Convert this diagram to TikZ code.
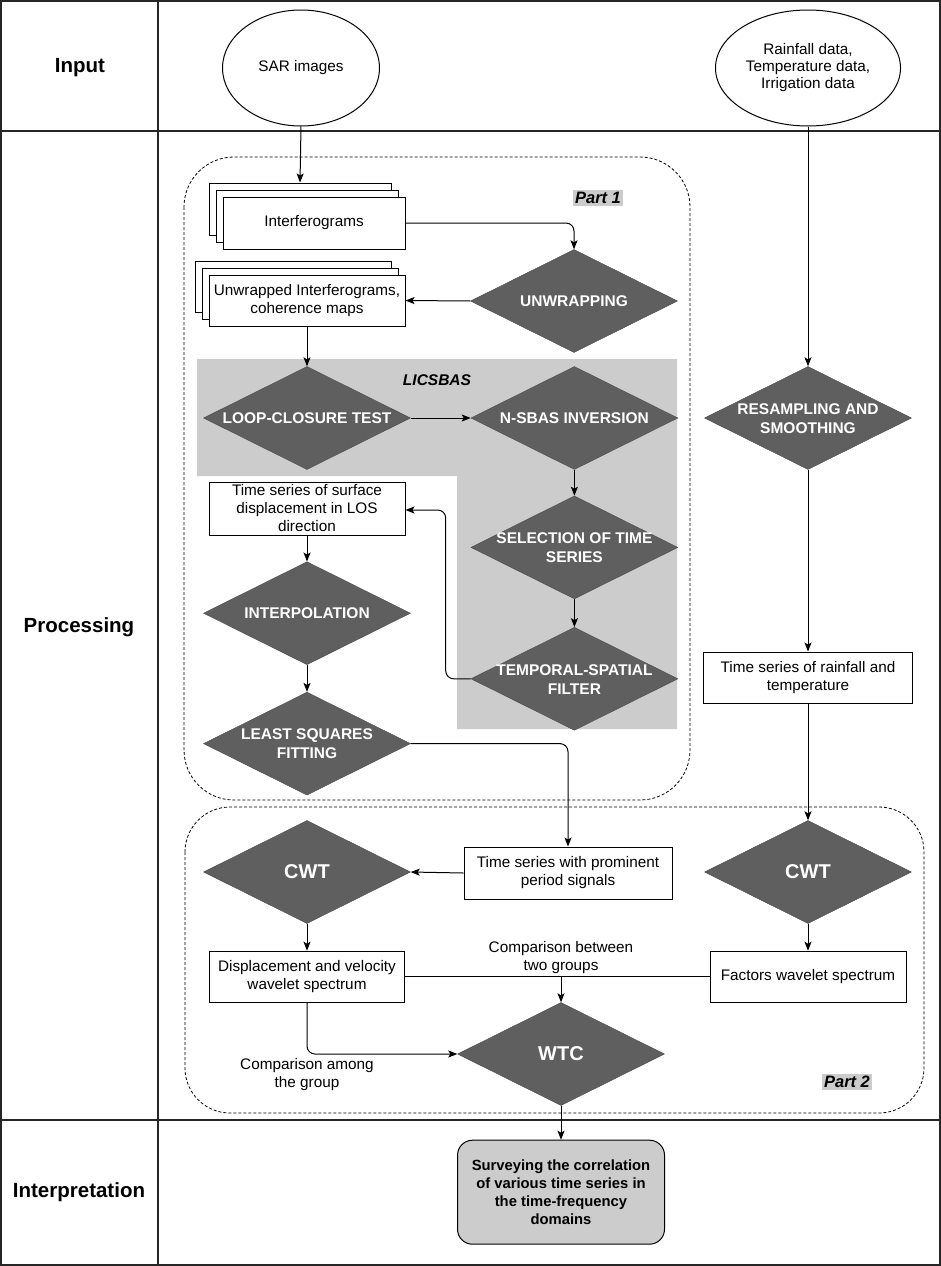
\documentclass[tikz,border=0pt]{standalone}
\usepackage{fontspec}
\setmainfont{Liberation Sans}
\usepackage{tikz}
\usetikzlibrary{shapes.geometric, arrows.meta, calc, positioning, shadows}
\definecolor{darkfill}{RGB}{95,95,95}
\definecolor{lightfill}{RGB}{204,204,204}
\newcommand{\DiaText}[1]{\makebox[0pt]{\smash{\raisebox{-0.36em}{\begin{tabular}{@{}c@{}}#1\end{tabular}}}}}
\tikzstyle{frame} = [line width=1.5pt, draw=black!85]
\tikzstyle{startstop} = [ellipse, draw=black, line width=1pt, minimum width=157pt, minimum height=116pt, align=center, font=\fontsize{15.3}{17}\selectfont]
\tikzstyle{process} = [rectangle, draw=black, line width=1pt, fill=white, minimum height=52pt, align=center, inner sep=2pt, font=\fontsize{15.3}{18}\selectfont]
\tikzstyle{stack} = [process, copy shadow={shadow xshift=-14pt, shadow yshift=14pt}, copy shadow={shadow xshift=-7pt, shadow yshift=7pt}]
\tikzstyle{decision} = [diamond, draw=black!70, fill=darkfill, minimum width=207pt, minimum height=103pt, inner sep=0pt, text=white, font=\bfseries\fontsize{15.5}{19}\selectfont]
\tikzstyle{bigdecision} = [decision, font=\bfseries\fontsize{20}{24}\selectfont]
\tikzstyle{result} = [rectangle, rounded corners=15pt, draw=black, line width=1pt, fill=lightfill, minimum width=207pt, minimum height=104pt, align=center, font=\bfseries\fontsize{14.8}{18}\selectfont]
\tikzstyle{rowlabel} = [font=\bfseries\fontsize{20.5}{24}\selectfont]
\tikzstyle{partlabel} = [fill=lightfill, inner sep=2pt, font=\bfseries\itshape\fontsize{16.5}{19}\selectfont]
\tikzstyle{note} = [align=center, font=\fontsize{15.3}{18}\selectfont]
\tikzstyle{group} = [dash pattern=on 3pt off 2pt, line width=0.8pt, rounded corners=50pt]
\tikzstyle{arrow} = [line width=1pt, -{Stealth[length=9pt, width=7pt, inset=2pt]}]
\tikzstyle{line} = [line width=1pt]
\begin{document}
\begin{tikzpicture}[x=1pt, y=-1pt, node distance=26pt]
\useasboundingbox (0,0) rectangle (941,1266);
% table
\draw[frame] (1,1) rectangle (940,1265);
\draw[frame] (158,1) -- (158,1265);
\draw[frame] (1,131) -- (940,131);
\draw[frame] (1,1120) -- (940,1120);
% parts and LiCSBAS area
\draw[group] (184,157) rectangle (690,800);
\draw[group, rounded corners=45pt] (185,807) rectangle (924,1113);
\fill[lightfill] (197,359) -- (677,359) -- (677,729) -- (457,729) -- (457,476) -- (197,476) -- cycle;
\node (PartOne) [partlabel] at (598,198) {Part 1};
\node (PartTwo) [partlabel] at (847,1082) {Part 2};
\node (Licsbas) [font=\bfseries\itshape\fontsize{15.5}{18}\selectfont] at (437,380) {LICSBAS};
% row labels
\node (Input) [rowlabel] at (80,68) {Input};
\node (Processing) [rowlabel] at (79,627) {Processing};
\node (Interpretation) [rowlabel] at (79,1192) {Interpretation};
% input
\node (SAR) [startstop] at (301,68) {SAR images};
\node (Rainfall) [startstop] at (808,68) {Rainfall data,\\Temperature data,\\Irrigation data};
% part 1
\node (Interferograms) [stack, minimum width=182pt] at (314,223) {Interferograms};
\node (Unwrapping) [decision] at (574,301) {\DiaText{UNWRAPPING}};
\node (Unwrapped) [stack, minimum width=196pt, minimum height=51pt] at (307,300.5) {Unwrapped Interferograms,\\coherence maps};
\node (LoopClosure) [decision] at (307,418) {\DiaText{LOOP-CLOSURE TEST}};
\node (NSBAS) [decision, right = 60pt of LoopClosure] {\DiaText{N-SBAS INVERSION}};
\node (Selection) [decision, below = 26pt of NSBAS] {\DiaText{SELECTION OF TIME\\SERIES}};
\node (Temporal) [decision, below = 28pt of Selection] {\DiaText{TEMPORAL-SPATIAL\\FILTER}};
\node (TsLOS) [process, minimum width=196pt, minimum height=53pt, inner sep=0pt] at (307,508.5) {Time series of surface\\displacement in LOS\\direction};
\node (Interpolation) [decision, below = 26pt of TsLOS] {\DiaText{INTERPOLATION}};
\node (LeastSquares) [decision, below = 27pt of Interpolation] {\DiaText{LEAST SQUARES\\FITTING}};
% right column
\node (Resampling) [decision] at (808,418) {\DiaText{RESAMPLING AND\\SMOOTHING}};
\node (TsRainfall) [process, minimum width=209pt, minimum height=51pt] at (808,677.5) {Time series of rainfall and\\temperature};
% part 2
\node (CwtLeft) [bigdecision] at (307,872) {\DiaText{CWT}};
\node (TsProminent) [process, minimum width=208pt] at (568,873) {Time series with prominent\\period signals};
\node (CwtRight) [bigdecision] at (808,872) {\DiaText{CWT}};
\node (DispSpectrum) [process, minimum width=195pt, minimum height=51pt, below = 27pt of CwtLeft] {Displacement and velocity\\wavelet spectrum};
\node (FactorSpectrum) [process, minimum width=196pt, minimum height=51pt, below = 27pt of CwtRight] {Factors wavelet spectrum};
\node (Wtc) [bigdecision] at (561,1054) {\DiaText{WTC}};
\node (CompBetween) [note] at (561,958) {Comparison between\\two groups};
\node (CompAmong) [note] at (307,1075) {Comparison among\\the group};
% interpretation
\node (Surveying) [result, below = 34pt of Wtc] {Surveying the correlation\\of various time series in\\the time-frequency\\domains};
% connectors
\draw [arrow] (SAR.south) -- ($(Interferograms.north)+(-14,-14)$);
\draw [arrow, rounded corners=8pt] (Interferograms.east) -| (Unwrapping.north);
\draw [arrow] (Unwrapping.west) -- (Unwrapped.east);
\draw [arrow] (Unwrapped.south) -- (LoopClosure.north);
\draw [arrow] (LoopClosure.east) -- (NSBAS.west);
\draw [arrow] (NSBAS.south) -- (Selection.north);
\draw [arrow] (Selection.south) -- (Temporal.north);
\draw [arrow, rounded corners=8pt] (Temporal.west) -- ++(-25,0) |- ($(TsLOS.east)+(0,1.5)$);
\draw [arrow] (TsLOS.south) -- (Interpolation.north);
\draw [arrow] (Interpolation.south) -- (LeastSquares.north);
\draw [arrow, rounded corners=8pt] (LeastSquares.east) -| (TsProminent.north);
\draw [arrow] (Rainfall.south) -- (Resampling.north);
\draw [arrow] (Resampling.south) -- (TsRainfall.north);
\draw [arrow] (TsRainfall.south) -- (CwtRight.north);
\draw [arrow] (TsProminent.west) -- (CwtLeft.east);
\draw [arrow] (CwtLeft.south) -- (DispSpectrum.north);
\draw [arrow] (CwtRight.south) -- (FactorSpectrum.north);
\coordinate (Junction) at (Wtc.north |- DispSpectrum.east);
\draw [line] (DispSpectrum.east) -- (FactorSpectrum.west);
\draw [arrow] (Junction) -- (Wtc.north);
\draw [arrow, rounded corners=8pt] (DispSpectrum.south) |- (Wtc.west);
\draw [arrow] (Wtc.south) -- (Surveying.north);
\end{tikzpicture}
\end{document}
